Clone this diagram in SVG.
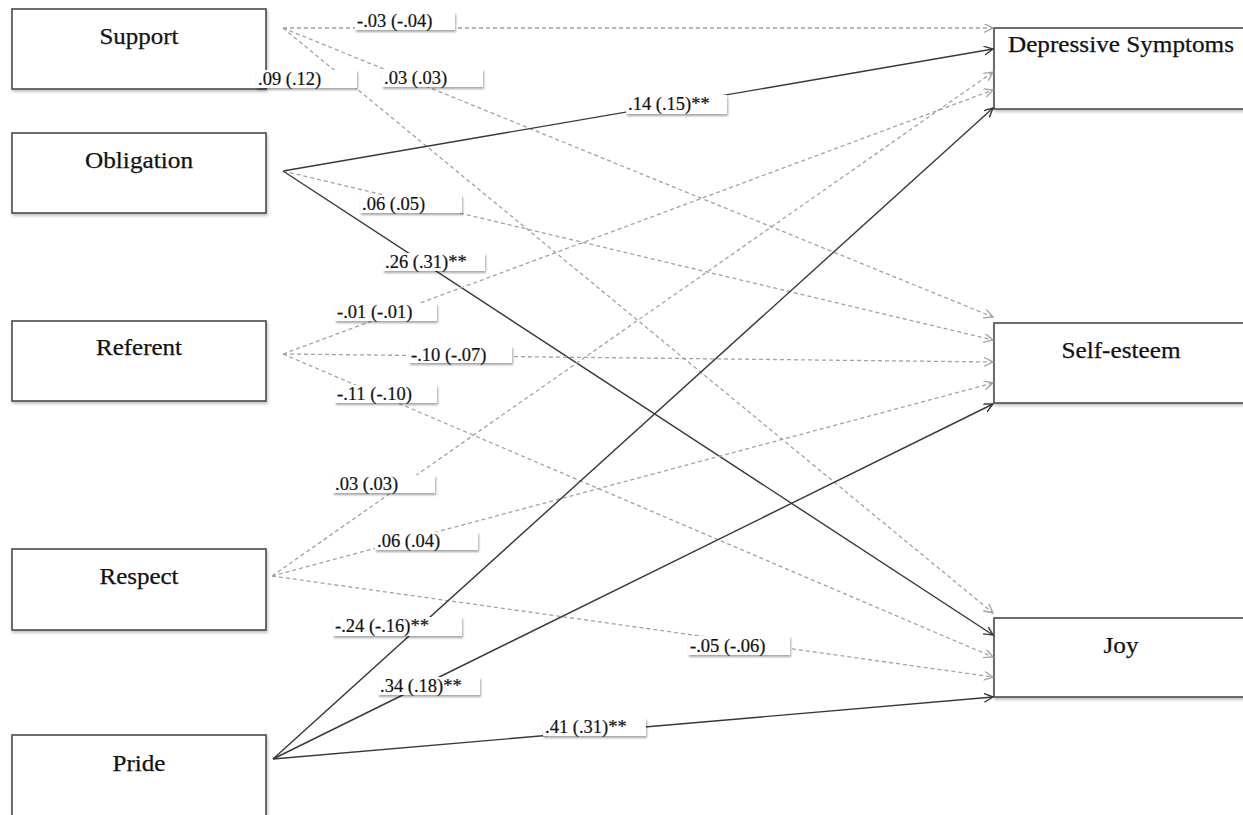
<svg xmlns="http://www.w3.org/2000/svg" width="1243" height="815" viewBox="0 0 1243 815">
<style>
.box{fill:#fff;stroke:#4a4a4a;stroke-width:1.6;filter:url(#sh)}
.nt{font-family:"Liberation Serif","Times New Roman",serif;font-size:24px;fill:#111;stroke:#111;stroke-width:0.25}
.dash{fill:none;stroke:#a3a3a3;stroke-width:1.3;stroke-dasharray:4 3;marker-end:url(#ag)}
.solid{fill:none;stroke:#383838;stroke-width:1.4;marker-end:url(#ad)}
.lb{fill:#fff;stroke:none;filter:url(#lsh)}
.lt{font-family:"Liberation Serif","Times New Roman",serif;font-size:18.5px;fill:#111;stroke:#111;stroke-width:0.2}
</style>
<defs>
<filter id="sh" x="-5%" y="-10%" width="115%" height="130%">
<feDropShadow dx="1" dy="2" stdDeviation="1.5" flood-color="#000" flood-opacity="0.25"/>
</filter>
<filter id="lsh" x="-10%" y="-30%" width="130%" height="180%">
<feDropShadow dx="1" dy="2" stdDeviation="1.2" flood-color="#000" flood-opacity="0.35"/>
</filter>
<marker id="ag" markerUnits="userSpaceOnUse" markerWidth="12" markerHeight="12" refX="9" refY="4.5" orient="auto">
<path d="M0,0 L9,4.5 L0,9" fill="none" stroke="#a3a3a3" stroke-width="1.3"/>
</marker>
<marker id="ad" markerUnits="userSpaceOnUse" markerWidth="12" markerHeight="12" refX="9" refY="4.5" orient="auto">
<path d="M0,0 L9,4.5 L0,9" fill="none" stroke="#383838" stroke-width="1.4"/>
</marker>
</defs>
<rect width="1243" height="815" fill="#fff"/>

<g id="node-support"><rect class="box" x="12" y="9" width="254" height="80"/><text class="nt" x="139" y="44" text-anchor="middle" textLength="79" lengthAdjust="spacingAndGlyphs">Support</text></g>
<g id="node-obligation"><rect class="box" x="12" y="133" width="254" height="80"/><text class="nt" x="139" y="168" text-anchor="middle" textLength="108" lengthAdjust="spacingAndGlyphs">Obligation</text></g>
<g id="node-referent"><rect class="box" x="12" y="321" width="254" height="80"/><text class="nt" x="139" y="355" text-anchor="middle" textLength="86" lengthAdjust="spacingAndGlyphs">Referent</text></g>
<g id="node-respect"><rect class="box" x="12" y="549" width="254" height="81"/><text class="nt" x="139" y="584" text-anchor="middle" textLength="79" lengthAdjust="spacingAndGlyphs">Respect</text></g>
<g id="node-pride"><rect class="box" x="12" y="735" width="254" height="90"/><text class="nt" x="139" y="771" text-anchor="middle" textLength="53" lengthAdjust="spacingAndGlyphs">Pride</text></g>
<g id="node-depressive"><rect class="box" x="994" y="28" width="254" height="81"/><text class="nt" x="1008" y="52" textLength="226" lengthAdjust="spacingAndGlyphs">Depressive Symptoms</text></g>
<g id="node-selfesteem"><rect class="box" x="994" y="323" width="254" height="80"/><text class="nt" x="1121" y="358" text-anchor="middle" textLength="119" lengthAdjust="spacingAndGlyphs">Self-esteem</text></g>
<g id="node-joy"><rect class="box" x="994" y="618" width="254" height="79"/><text class="nt" x="1121" y="653" text-anchor="middle" textLength="35" lengthAdjust="spacingAndGlyphs">Joy</text></g>

<g id="connectors">
<line class="dash" x1="283" y1="28" x2="993" y2="28"/>
<line class="dash" x1="283" y1="28" x2="993" y2="317"/>
<line class="dash" x1="283" y1="28" x2="993" y2="613"/>
<line class="solid" x1="283" y1="171" x2="993" y2="49"/>
<line class="dash" x1="283" y1="171" x2="993" y2="340"/>
<line class="solid" x1="283" y1="171" x2="993" y2="635"/>
<line class="dash" x1="283" y1="354" x2="993" y2="90"/>
<line class="dash" x1="283" y1="354" x2="993" y2="362"/>
<line class="dash" x1="283" y1="354" x2="993" y2="657"/>
<line class="dash" x1="272" y1="576" x2="993" y2="72"/>
<line class="dash" x1="272" y1="576" x2="993" y2="383"/>
<line class="dash" x1="272" y1="576" x2="993" y2="677"/>
<line class="solid" x1="273" y1="759" x2="993" y2="108"/>
<line class="solid" x1="273" y1="759" x2="993" y2="404"/>
<line class="solid" x1="273" y1="759" x2="993" y2="697"/>
</g>

<g id="edge-labels">
<rect class="lb" x="355" y="12" width="100" height="18"/><text class="lt" x="357" y="27">-.03 (-.04)</text>
<rect class="lb" x="382" y="69" width="101" height="18"/><text class="lt" x="384" y="84">.03 (.03)</text>
<rect class="lb" x="256" y="70" width="101" height="18"/><text class="lt" x="258" y="85">.09 (.12)</text>
<rect class="lb" x="626" y="95" width="101" height="19"/><text class="lt" x="628" y="110">.14 (.15)**</text>
<rect class="lb" x="360" y="195" width="102" height="18"/><text class="lt" x="362" y="210">.06 (.05)</text>
<rect class="lb" x="383" y="253" width="102" height="18"/><text class="lt" x="385" y="268">.26 (.31)**</text>
<rect class="lb" x="335" y="303" width="102" height="18"/><text class="lt" x="337" y="318">-.01 (-.01)</text>
<rect class="lb" x="409" y="346" width="103" height="17"/><text class="lt" x="411" y="361">-.10 (-.07)</text>
<rect class="lb" x="335" y="385" width="102" height="18"/><text class="lt" x="337" y="400">-.11 (-.10)</text>
<rect class="lb" x="333" y="475" width="102" height="18"/><text class="lt" x="335" y="490">.03 (.03)</text>
<rect class="lb" x="375" y="532" width="103" height="18"/><text class="lt" x="377" y="547">.06 (.04)</text>
<rect class="lb" x="333" y="617" width="129" height="19"/><text class="lt" x="335" y="632">-.24 (-.16)**</text>
<rect class="lb" x="688" y="636" width="102" height="19"/><text class="lt" x="690" y="652">-.05 (-.06)</text>
<rect class="lb" x="378" y="677" width="102" height="18"/><text class="lt" x="380" y="692">.34 (.18)**</text>
<rect class="lb" x="543" y="718" width="103" height="18"/><text class="lt" x="545" y="733">.41 (.31)**</text>
</g>
</svg>
